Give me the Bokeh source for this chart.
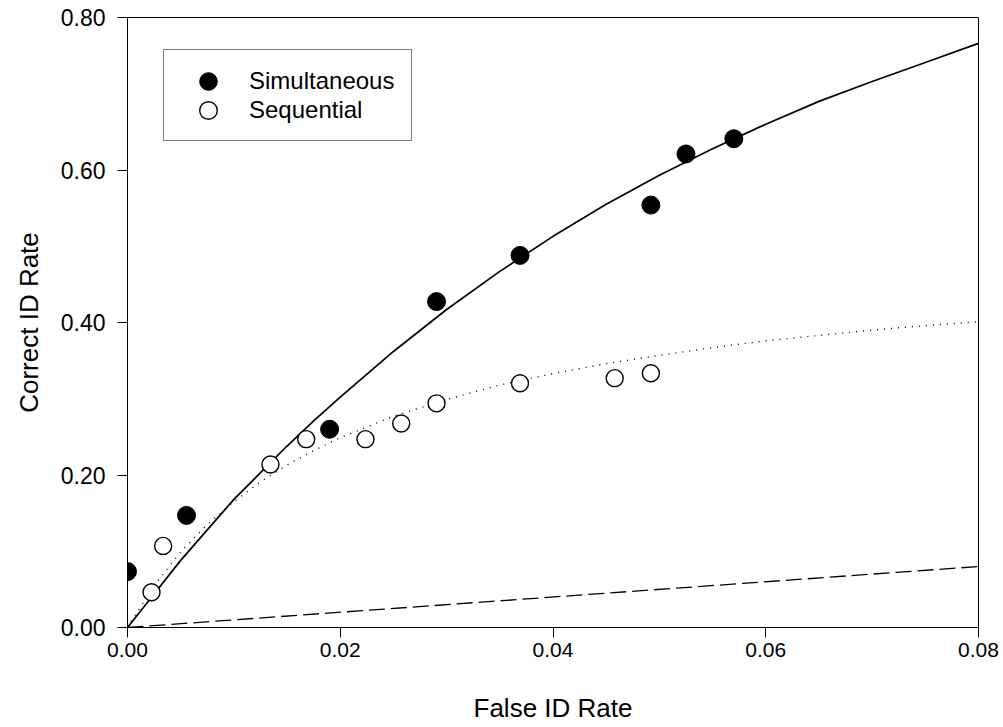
from bokeh.plotting import figure
from bokeh.models import FixedTicker, NumeralTickFormatter, Range1d, Legend, LegendItem
from bokeh.embed import file_html
from bokeh.resources import INLINE

# Data
sim_x = [0.0, 0.00555, 0.0190, 0.02905, 0.0369, 0.0492, 0.0525, 0.0570]
sim_y = [0.0734, 0.147, 0.260, 0.4275, 0.488, 0.554, 0.621, 0.641]

seq_x = [0.00226, 0.00335, 0.01344, 0.0168, 0.02237, 0.02573, 0.02905, 0.0369, 0.0458, 0.0492]
seq_y = [0.0463, 0.107, 0.2138, 0.247, 0.247, 0.2675, 0.294, 0.3204, 0.327, 0.3335]

curve_x = [0.0, 0.0025, 0.005, 0.0075, 0.01, 0.0125, 0.015, 0.0175, 0.02, 0.025, 0.03,
           0.035, 0.04, 0.045, 0.05, 0.055, 0.06, 0.065, 0.07, 0.075, 0.08]
sim_curve_y = [0.0, 0.044, 0.088, 0.128, 0.168, 0.203, 0.238, 0.271, 0.302, 0.362, 0.417,
               0.467, 0.513, 0.555, 0.593, 0.628, 0.660, 0.690, 0.716, 0.741, 0.766]
seq_curve_y = [0.0, 0.055, 0.099, 0.135, 0.165, 0.191, 0.213, 0.232, 0.249, 0.277, 0.299,
               0.318, 0.333, 0.346, 0.357, 0.367, 0.376, 0.383, 0.390, 0.396, 0.401]

chance_x = [0.0, 0.08]
chance_y = [0.0, 0.08]

x_ticks = [0.0, 0.02, 0.04, 0.06, 0.08]
y_ticks = [0.0, 0.2, 0.4, 0.6, 0.8]

series_labels = ["Simultaneous", "Sequential"]

FONT = "Liberation Sans"

p = figure(width=1003, height=727, output_backend="svg", toolbar_location=None,
           x_range=Range1d(0, 0.08), y_range=Range1d(0, 0.8),
           min_border_left=127, min_border_right=25, min_border_top=17, min_border_bottom=100)

p.xgrid.visible = False
p.ygrid.visible = False
p.outline_line_color = "black"
p.outline_line_width = 1

for ax in (p.xaxis[0], p.yaxis[0]):
    ax.axis_line_color = "black"
    ax.major_tick_line_color = "black"
    ax.major_tick_out = 10
    ax.major_tick_in = 0
    ax.minor_tick_line_color = None
    ax.major_label_text_font = FONT
    ax.major_label_text_color = "black"
    ax.axis_label_text_font = FONT
    ax.axis_label_text_font_size = "26px"
    ax.axis_label_text_font_style = "normal"
    ax.axis_label_text_color = "black"

p.xaxis.major_label_text_font_size = "21px"
p.yaxis.major_label_text_font_size = "23px"
p.xaxis.ticker = FixedTicker(ticks=x_ticks)
p.yaxis.ticker = FixedTicker(ticks=y_ticks)
p.xaxis.formatter = NumeralTickFormatter(format="0.00")
p.yaxis.formatter = NumeralTickFormatter(format="0.00")
p.xaxis.major_label_standoff = 5
p.yaxis.major_label_standoff = 12
p.xaxis.axis_label = "False ID Rate"
p.yaxis.axis_label = "Correct ID Rate"
p.xaxis.axis_label_standoff = 33
p.yaxis.axis_label_standoff = 14

p.line(chance_x, chance_y, line_color="black", line_width=1.3, line_dash="16 6")
p.line(curve_x, seq_curve_y, line_color="black", line_width=1.4, line_dash="1 6")
p.line(curve_x, sim_curve_y, line_color="black", line_width=1.7)

r_sim = p.scatter(sim_x, sim_y, size=18, marker="circle", fill_color="black", line_color="black")
r_seq = p.scatter(seq_x, seq_y, size=17, marker="circle", fill_color="white",
                  line_color="black", line_width=1.4)

# invisible stand-ins so the boxed legend only carries the labels
d_sim = p.scatter([], [], marker="circle", fill_alpha=0, line_alpha=0)
d_seq = p.scatter([], [], marker="circle", fill_alpha=0, line_alpha=0)

box_legend = Legend(items=[LegendItem(label=series_labels[0], renderers=[d_sim]),
                           LegendItem(label=series_labels[1], renderers=[d_seq])],
                    location=(36, 486), orientation="vertical")
box_legend.label_text_font = FONT
box_legend.label_text_font_size = "24px"
box_legend.label_text_color = "black"
box_legend.border_line_color = "black"
box_legend.border_line_width = 1
box_legend.background_fill_color = "white"
box_legend.background_fill_alpha = 1
box_legend.padding = 16
box_legend.spacing = 0
box_legend.glyph_width = 48
box_legend.glyph_height = 29
box_legend.label_height = 29
box_legend.label_width = 146
box_legend.label_standoff = 21
box_legend.margin = 0
p.add_layout(box_legend, "center")


def marker_legend(renderer, loc):
    lg = Legend(items=[LegendItem(label=" ", renderers=[renderer])],
                location=loc, orientation="vertical")
    lg.border_line_color = None
    lg.background_fill_alpha = 0
    lg.padding = 0
    lg.spacing = 0
    lg.glyph_width = 44
    lg.glyph_height = 44
    lg.label_height = 44
    lg.label_width = 0
    lg.label_standoff = 0
    lg.label_text_font_size = "4px"
    lg.margin = 0
    return lg


p.add_layout(marker_legend(r_sim, (59, 524)), "center")
p.add_layout(marker_legend(r_seq, (59, 495)), "center")

open("out.html", "w").write(file_html(p, INLINE))
